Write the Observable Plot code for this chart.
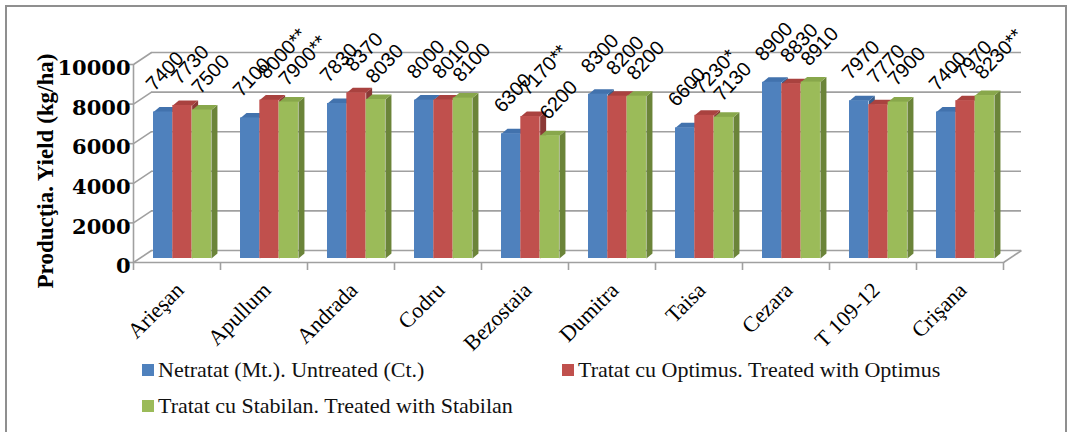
<!DOCTYPE html>
<html>
<head>
<meta charset="utf-8">
<script src="https://cdn.jsdelivr.net/npm/d3@7"></script>
<script src="https://cdn.jsdelivr.net/npm/@observablehq/plot@0.6"></script>
<style>
  html, body { margin: 0; padding: 0; background: #fff; overflow: hidden; }
  #wrap { position: relative; width: 1074px; height: 432px; overflow: hidden; }
  #border { position: absolute; left: 5px; top: 5px; width: 1062px; height: 440px; border: 2px solid #8f8f8f; box-sizing: border-box; }
  #chart { position: absolute; left: 0; top: 0; }
  #ytitle { position: absolute; left: 45px; top: 171px; transform: translate(-50%, -50%) rotate(-90deg);
    font-family: "Liberation Serif", serif; font-weight: bold; font-size: 23px; color: #000; white-space: nowrap; line-height: 1; }
  .lg { position: absolute; font-family: "Liberation Serif", serif; font-size: 22px; color: #111; white-space: nowrap; line-height: 1; }
  .lg .sw { display: inline-block; width: 12px; height: 12px; margin-right: 4px; vertical-align: 1px; }
</style>
</head>
<body>
<div id="wrap">
  <div id="border"></div>
  <div id="chart"></div>
  <div id="ytitle"></div>
  <div id="legend"></div>
</div>
<script>
// ---- data ----
const categories = ["Arieşan", "Apullum", "Andrada", "Codru", "Bezostaia", "Dumitra", "Taisa", "Cezara", "T 109-12", "Crişana"];
const seriesNames = ["Netratat (Mt.). Untreated (Ct.)", "Tratat cu Optimus. Treated with Optimus", "Tratat cu Stabilan. Treated with Stabilan"];
const untreated = [7400, 7100, 7830, 8000, 6300, 8300, 6600, 8900, 7970, 7400];
const optimus   = [7730, 8000, 8370, 8010, 7170, 8200, 7230, 8830, 7770, 7970];
const stabilan  = [7500, 7900, 8030, 8100, 6200, 8200, 7130, 8910, 7900, 8230];
const sigUntreated = ["", "", "", "", "", "", "", "", "", ""];
const sigOptimus   = ["", "**", "", "", "**", "", "*", "", "", ""];
const sigStabilan  = ["", "**", "", "", "", "", "", "", "", "**"];
const yTicks = [0, 2000, 4000, 6000, 8000, 10000];
const yTitle = "Producţia. Yield (kg/ha)";

// ---- styles ----
const frontColors = ["#4f81bd", "#c0504d", "#9bbb59"];
const topColors   = ["#4272ad", "#a9423f", "#88a74b"];
const sideColors  = ["#385d8a", "#8b3936", "#6b8439"];
const labelDx = [1, 7, 8];
const labelDy = [-24, -24, -19];
const gridColor = "#a0a0a0";

const W = 1074, H = 350;
const mL = 133, mR = 71, mT = 64, mB = 88;
const nCat = categories.length;
const yMax = 10000;
const pxX = nCat / (W - mL - mR);          // data units per px (x)
const pxY = yMax / (H - mT - mB);          // data units per px (y)
const DX = 18 * pxX, DY = 12 * pxY;        // wall depth
const BDX = 6 * pxX, BDY = 5 * pxY;        // bar depth
const barStart = 0.23, barW = 0.222;

const values = [untreated, optimus, stabilan];
const sigs = [sigUntreated, sigOptimus, sigStabilan];
const rows = [];
categories.forEach((c, i) => values.forEach((vals, j) => {
  const x1 = i + barStart + j * barW;
  rows.push({i, j, key: i + "-" + j, x1, x2: x1 + barW, v: vals[i], label: vals[i] + sigs[j][i]});
}));

const sidePts = rows.flatMap(r => [
  {key: r.key, j: r.j, x: r.x2, y: 0},
  {key: r.key, j: r.j, x: r.x2 + BDX, y: BDY},
  {key: r.key, j: r.j, x: r.x2 + BDX, y: r.v + BDY},
  {key: r.key, j: r.j, x: r.x2, y: r.v}
]);
const topPts = rows.flatMap(r => [
  {key: r.key, j: r.j, x: r.x1, y: r.v},
  {key: r.key, j: r.j, x: r.x2, y: r.v},
  {key: r.key, j: r.j, x: r.x2 + BDX, y: r.v + BDY},
  {key: r.key, j: r.j, x: r.x1 + BDX, y: r.v + BDY}
]);

const serifNum = "DejaVu Serif, serif";
const serif = "Liberation Serif, serif";
const sans = "Liberation Sans, Arial, sans-serif";

const marks = [
  Plot.ruleY(yTicks, {y: d => d + DY, x1: DX, x2: nCat + DX, stroke: gridColor, strokeWidth: 1.6}),
  Plot.link(yTicks, {x1: 0, y1: d => d, x2: DX, y2: d => d + DY, stroke: gridColor, strokeWidth: 1.6}),
  Plot.link([0], {x1: nCat, y1: 0, x2: nCat + DX, y2: DY, stroke: gridColor, strokeWidth: 1.6}),
  Plot.ruleX([0], {y1: 0, y2: yMax, stroke: gridColor, strokeWidth: 1.6}),
  Plot.ruleY([0], {x1: 0, x2: nCat, stroke: gridColor, strokeWidth: 1.6}),
  Plot.axisY(yTicks, {tickSize: 6, tickFormat: () => "", stroke: gridColor, strokeWidth: 1.6}),
  Plot.axisX(d3.range(0, nCat + 1), {tickSize: 8, tickFormat: () => "", stroke: gridColor, strokeWidth: 1.6}),
  Plot.text(yTicks, {x: 0, y: d => d, text: d => String(d), textAnchor: "end", dx: -3, dy: 4,
    fontFamily: serifNum, fontWeight: "bold", fontSize: 21, fill: "#000"}),
  ...[0, 1, 2].map(j => Plot.line(sidePts.filter(d => d.j === j), {x: "x", y: "y", z: "key", fill: sideColors[j], stroke: "none", curve: "linear-closed", dy: -4})),
  ...[0, 1, 2].map(j => Plot.line(topPts.filter(d => d.j === j), {x: "x", y: "y", z: "key", fill: topColors[j], stroke: "none", curve: "linear-closed", dy: -4})),
  Plot.rect(rows, {x1: "x1", x2: "x2", y1: 0, y2: "v", fill: d => frontColors[d.j], dy: -4}),
  ...[0, 1, 2].map(j => Plot.text(rows.filter(d => d.j === j), {x: "x1", y: "v", text: "label", rotate: -47,
    textAnchor: "start", lineAnchor: "bottom", dx: labelDx[j], dy: labelDy[j], fontFamily: sans, fontSize: 20, fill: "#000"})),
  Plot.text(categories, {x: (d, i) => i + 0.5, y: 0, text: d => d, rotate: -45, textAnchor: "end",
    dx: 3, dy: 24, fontFamily: serif, fontSize: 22, fill: "#000"})
];

const chart = Plot.plot({
  width: W, height: H,
  marginLeft: mL, marginRight: mR, marginTop: mT, marginBottom: mB,
  x: {type: "linear", domain: [0, nCat], axis: null},
  y: {type: "linear", domain: [0, yMax], axis: null},
  style: {background: "transparent", overflow: "visible", color: "#000"},
  marks
});
document.getElementById("chart").appendChild(chart);
document.getElementById("ytitle").textContent = yTitle;

const legendPos = [{left: 142, top: 359}, {left: 562, top: 359}, {left: 142, top: 395}];
const lg = document.getElementById("legend");
seriesNames.forEach((name, j) => {
  const d = document.createElement("div");
  d.className = "lg";
  d.style.left = legendPos[j].left + "px";
  d.style.top = legendPos[j].top + "px";
  const sw = document.createElement("span");
  sw.className = "sw";
  sw.style.background = frontColors[j];
  d.appendChild(sw);
  d.appendChild(document.createTextNode(name));
  lg.appendChild(d);
});
</script>
</body>
</html>
